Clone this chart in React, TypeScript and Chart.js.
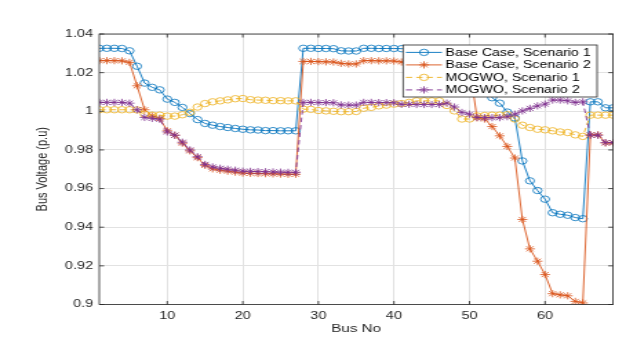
import React, { useEffect, useRef } from 'react';
import { Chart, registerables } from 'chart.js';

Chart.register(...registerables);

// The reference is a MATLAB figure stretched horizontally; draw on a narrower canvas and stretch it.
const CANVAS_W = 454;
const CANVAS_H = 342;
const SHOWN_W = 626;

const busNo = [
  1, 2, 3, 4, 5, 6, 7, 8, 9, 10, 11, 12, 13, 14, 15, 16, 17, 18, 19, 20,
  21, 22, 23, 24, 25, 26, 27, 28, 29, 30, 31, 32, 33, 34, 35, 36, 37, 38, 39, 40,
  41, 42, 43, 44, 45, 46, 47, 48, 49, 50, 51, 52, 53, 54, 55, 56, 57, 58, 59, 60,
  61, 62, 63, 64, 65, 66, 67, 68, 69,
];

const baseCaseS1 = [
  1.0326, 1.0326, 1.0326, 1.0325, 1.0313, 1.0233, 1.0146, 1.0124, 1.0111, 1.0063,
  1.0046, 1.0020, 0.9988, 0.9957, 0.9937, 0.9928, 0.9921, 0.9916, 0.9911, 0.9907,
  0.9904, 0.9903, 0.9900, 0.9900, 0.9899, 0.9899, 0.9899, 1.0326, 1.0326, 1.0325,
  1.0325, 1.0324, 1.0313, 1.0312, 1.0312, 1.0326, 1.0326, 1.0325, 1.0325, 1.0325,
  1.0324, 1.0324, 1.0324, 1.0324, 1.0323, 1.0323, 1.0322, 1.0318, 1.0305, 1.0303,
  1.0146, 1.0146, 1.0070, 1.0042, 0.9996, 0.9965, 0.9743, 0.9640, 0.9590, 0.9545,
  0.9475, 0.9467, 0.9462, 0.9450, 0.9444, 1.0049, 1.0049, 1.0018, 1.0018,
];

const baseCaseS2 = [
  1.0262, 1.0262, 1.0262, 1.0261, 1.0253, 1.0132, 1.0008, 0.9976, 0.9963, 0.9899,
  0.9876, 0.9835, 0.9795, 0.9760, 0.9720, 0.9702, 0.9695, 0.9690, 0.9685, 0.9680,
  0.9679, 0.9678, 0.9677, 0.9676, 0.9675, 0.9674, 0.9674, 1.0258, 1.0258, 1.0257,
  1.0256, 1.0255, 1.0248, 1.0245, 1.0245, 1.0262, 1.0262, 1.0261, 1.0261, 1.0260,
  1.0255, 1.0255, 1.0254, 1.0254, 1.0253, 1.0253, 1.0252, 1.0245, 1.0235, 1.0232,
  0.9966, 0.9960, 0.9921, 0.9873, 0.9818, 0.9758, 0.9440, 0.9288, 0.9224, 0.9155,
  0.9056, 0.9050, 0.9045, 0.9016, 0.9008, 0.9878, 0.9878, 0.9836, 0.9836,
];

const mogwoS1 = [
  1.0008, 1.0008, 1.0008, 1.0008, 1.0008, 1.0007, 0.9985, 0.9980, 0.9980, 0.9975,
  0.9975, 0.9982, 0.9995, 1.0022, 1.0040, 1.0049, 1.0054, 1.0059, 1.0065, 1.0066,
  1.0060, 1.0058, 1.0057, 1.0055, 1.0055, 1.0054, 1.0054, 1.0011, 1.0010, 1.0004,
  1.0002, 1.0000, 0.9998, 0.9998, 0.9999, 1.0016, 1.0020, 1.0028, 1.0032, 1.0037,
  1.0040, 1.0046, 1.0054, 1.0054, 1.0054, 1.0054, 1.0030, 1.0002, 0.9960, 0.9960,
  0.9976, 0.9978, 0.9980, 0.9980, 0.9982, 0.9960, 0.9928, 0.9916, 0.9907, 0.9904,
  0.9899, 0.9893, 0.9890, 0.9878, 0.9870, 0.9980, 0.9980, 0.9980, 0.9980,
];

const mogwoS2 = [
  1.0046, 1.0046, 1.0046, 1.0046, 1.0042, 1.0008, 0.9968, 0.9963, 0.9959, 0.9893,
  0.9876, 0.9840, 0.9800, 0.9765, 0.9725, 0.9712, 0.9705, 0.9700, 0.9695, 0.9690,
  0.9689, 0.9688, 0.9687, 0.9686, 0.9685, 0.9684, 0.9684, 1.0046, 1.0046, 1.0045,
  1.0045, 1.0044, 1.0033, 1.0032, 1.0032, 1.0046, 1.0046, 1.0045, 1.0045, 1.0044,
  1.0036, 1.0036, 1.0035, 1.0035, 1.0035, 1.0035, 1.0042, 1.0022, 0.9994, 0.9985,
  0.9968, 0.9967, 0.9967, 0.9967, 0.9972, 0.9985, 1.0002, 1.0015, 1.0028, 1.0037,
  1.0058, 1.0058, 1.0054, 1.0046, 1.0049, 0.9876, 0.9876, 0.9838, 0.9838,
];

const seriesNames = [
  'Base Case, Scenario 1',
  'Base Case, Scenario 2',
  'MOGWO, Scenario 1',
  'MOGWO, Scenario 2',
];

const xTickValues = [10, 20, 30, 40, 50, 60];
const yTickValues = [0.9, 0.92, 0.94, 0.96, 0.98, 1, 1.02, 1.04];

const xTitle = 'Bus No';
const yTitle = 'Bus Voltage (p.u)';

const FONT = '"Liberation Sans", Arial, Helvetica, sans-serif';
const AXIS_COLOR = '#262626';
const COLORS = ['#0072BD', '#D95319', '#EDB120', '#7E2F8E'];
const STYLES = ['circle', 'star', 'circle', 'star'];
const DASHES: number[][] = [[], [], [4.5, 3], [4.5, 3]];

function drawMarker(ctx: CanvasRenderingContext2D, style: string, x: number, y: number, r: number) {
  ctx.beginPath();
  if (style === 'circle') {
    ctx.arc(x, y, r, 0, Math.PI * 2);
  } else {
    for (let k = 0; k < 4; k++) {
      const a = (k * Math.PI) / 4;
      ctx.moveTo(x - Math.cos(a) * r, y - Math.sin(a) * r);
      ctx.lineTo(x + Math.cos(a) * r, y + Math.sin(a) * r);
    }
  }
  ctx.stroke();
}

const matlabFrame = {
  id: 'matlabFrame',
  afterDraw(chart: any) {
    const ctx: CanvasRenderingContext2D = chart.ctx;
    const ca = chart.chartArea;
    const xs = chart.scales.x;
    const ys = chart.scales.y;
    ctx.save();
    // box
    ctx.strokeStyle = AXIS_COLOR;
    ctx.lineWidth = 0.8;
    ctx.strokeRect(ca.left, ca.top, ca.right - ca.left, ca.bottom - ca.top);
    // inward tick marks on all four sides
    const tl = 3.5;
    ctx.beginPath();
    for (const v of xTickValues) {
      const px = xs.getPixelForValue(v);
      ctx.moveTo(px, ca.bottom);
      ctx.lineTo(px, ca.bottom - tl);
      ctx.moveTo(px, ca.top);
      ctx.lineTo(px, ca.top + tl);
    }
    for (const v of yTickValues) {
      const py = ys.getPixelForValue(v);
      ctx.moveTo(ca.left, py);
      ctx.lineTo(ca.left + tl, py);
      ctx.moveTo(ca.right, py);
      ctx.lineTo(ca.right - tl, py);
    }
    ctx.stroke();

    // legend (north-east)
    const lw = 140.7;
    const lh = 52;
    const lx = ca.right - 11.6 - lw;
    const ly = ca.top + 11;
    ctx.fillStyle = '#ffffff';
    ctx.fillRect(lx, ly, lw, lh);
    ctx.strokeStyle = AXIS_COLOR;
    ctx.lineWidth = 0.8;
    ctx.strokeRect(lx, ly, lw, lh);
    chart.data.datasets.forEach((ds: any, i: number) => {
      const cy = ly + 7.4 + i * 12.5;
      ctx.strokeStyle = ds.borderColor;
      ctx.lineWidth = ds.borderWidth;
      ctx.setLineDash(ds.borderDash || []);
      ctx.beginPath();
      ctx.moveTo(lx + 2.1, cy);
      ctx.lineTo(lx + 28.2, cy);
      ctx.stroke();
      ctx.setLineDash([]);
      ctx.lineWidth = ds.pointBorderWidth;
      drawMarker(ctx, ds.pointStyle, lx + 15.2, cy, ds.pointRadius);
      ctx.fillStyle = '#000000';
      ctx.font = `10.3px ${FONT}`;
      ctx.textAlign = 'left';
      ctx.textBaseline = 'middle';
      ctx.fillText(ds.label, lx + 30.8, cy + 0.5);
    });
    ctx.restore();
  },
};

export default function App() {
  const canvasRef = useRef<HTMLCanvasElement | null>(null);

  useEffect(() => {
    const canvas = canvasRef.current;
    if (!canvas) return;
    const series = [baseCaseS1, baseCaseS2, mogwoS1, mogwoS2];
    const chart = new Chart(canvas, {
      type: 'line',
      data: {
        datasets: series.map((vals, i) => ({
          label: seriesNames[i],
          data: busNo.map((b, k) => ({ x: b, y: vals[k] })),
          borderColor: COLORS[i],
          backgroundColor: COLORS[i],
          borderWidth: 0.9,
          borderDash: DASHES[i],
          pointStyle: STYLES[i],
          pointRadius: STYLES[i] === 'circle' ? 3.2 : 3.6,
          pointBorderWidth: 0.8,
          pointBorderColor: COLORS[i],
          pointBackgroundColor: 'rgba(0,0,0,0)',
          fill: false,
          tension: 0,
          order: 3 - i,
        })),
      },
      options: {
        responsive: false,
        animation: false,
        events: [],
        layout: { padding: { top: 34, right: 9.4, left: 0, bottom: 0 } },
        plugins: { legend: { display: false }, tooltip: { enabled: false } },
        scales: {
          x: {
            type: 'linear',
            min: 1,
            max: 69,
            afterBuildTicks: (s: any) => {
              s.ticks = xTickValues.map((v) => ({ value: v }));
            },
            afterFit: (s: any) => {
              s.height = 37.5;
            },
            grid: { color: '#e2e2e2', lineWidth: 1, drawTicks: false },
            border: { display: false },
            ticks: {
              padding: 5,
              color: AXIS_COLOR,
              font: { family: FONT, size: 10.5 },
              maxRotation: 0,
              autoSkip: false,
              callback: (v: any) => String(v),
            },
            title: {
              display: true,
              text: xTitle,
              color: AXIS_COLOR,
              font: { family: FONT, size: 11 },
              padding: { top: 0, bottom: 6.4 },
            },
          },
          y: {
            type: 'linear',
            min: 0.9,
            max: 1.04,
            afterBuildTicks: (s: any) => {
              s.ticks = yTickValues.map((v) => ({ value: v }));
            },
            afterFit: (s: any) => {
              s.width = 72;
            },
            grid: { color: '#e2e2e2', lineWidth: 1, drawTicks: false },
            border: { display: false },
            ticks: {
              padding: 4.5,
              color: AXIS_COLOR,
              font: { family: FONT, size: 10.5 },
              autoSkip: false,
              callback: (v: any) => String(Math.round(Number(v) * 100) / 100),
            },
            title: {
              display: true,
              text: yTitle,
              color: AXIS_COLOR,
              font: { family: FONT, size: 11 },
              padding: { top: 24, bottom: 0 },
            },
          },
        },
      },
      plugins: [matlabFrame],
    } as any);
    return () => chart.destroy();
  }, []);

  return (
    <div style={{ position: 'fixed', left: 0, top: 0, width: SHOWN_W, height: CANVAS_H, background: '#ffffff' }}>
      <canvas
        ref={canvasRef}
        width={CANVAS_W}
        height={CANVAS_H}
        style={{ width: `${SHOWN_W}px`, height: `${CANVAS_H}px`, display: 'block' }}
      />
    </div>
  );
}
